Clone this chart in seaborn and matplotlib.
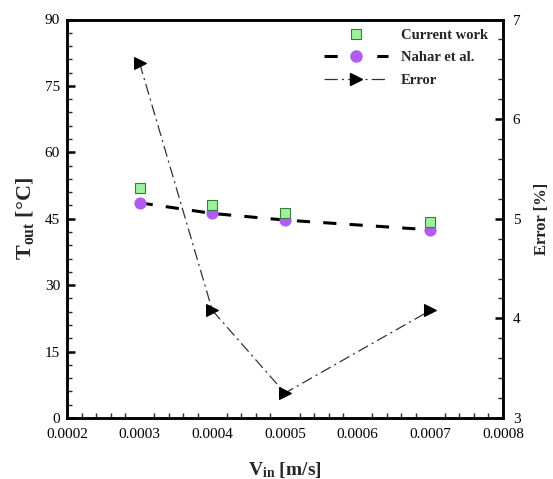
import matplotlib
matplotlib.use("Agg")
import matplotlib.pyplot as plt
import seaborn as sns
import pandas as pd
from matplotlib.ticker import MultipleLocator, AutoMinorLocator
from matplotlib.lines import Line2D

v_in = [0.0003, 0.0004, 0.0005, 0.0007]
current_work = [51.9, 48.2, 46.4, 44.3]
nahar = [48.6, 46.2, 44.7, 42.5]
error = [6.56, 4.08, 3.25, 4.08]
x_ticks = ["0.0002", "0.0003", "0.0004", "0.0005", "0.0006", "0.0007", "0.0008"]

sns.set_theme(style="white")
plt.rcParams['font.family'] = ['Liberation Serif', 'DejaVu Serif']
plt.rcParams['mathtext.fontset'] = 'custom'
plt.rcParams['mathtext.rm'] = 'Liberation Serif'
plt.rcParams['mathtext.bf'] = 'Liberation Serif:bold'
plt.rcParams['lines.scale_dashes'] = False

df = pd.DataFrame({"v": v_in, "cw": current_work, "nahar": nahar, "err": error})

GREEN_FACE, GREEN_EDGE, PURPLE = "#9ef09e", "#3a7a3a", "#b05cf0"
NAHAR_DASH = (0, (9.5, 9.5))
ERR_DASH = (0, (8, 3, 1.5, 3))

fig = plt.figure(figsize=(5.53, 4.79), dpi=100)
ax = fig.add_axes([67/553, 1 - 418/479, (503-67)/553, (418-19.5)/479])
ax2 = ax.twinx()

sns.lineplot(data=df, x="v", y="nahar", ax=ax, linestyle=NAHAR_DASH, linewidth=2.2,
             color="black", marker="o", markersize=8, markerfacecolor=PURPLE,
             markeredgecolor=PURPLE, legend=False)
sns.lineplot(data=df, x="v", y="cw", ax=ax, linestyle="none", marker="s",
             markersize=7.2, markerfacecolor=GREEN_FACE, markeredgecolor=GREEN_EDGE,
             markeredgewidth=0.8, color=GREEN_EDGE, legend=False)
sns.lineplot(data=df, x="v", y="err", ax=ax2, linestyle=ERR_DASH, linewidth=0.9,
             color="#333333", marker=">", markersize=8, markerfacecolor="black",
             markeredgecolor="black", legend=False)

ax.set_xlim(0.0002, 0.0008)
ax.set_ylim(0, 90)
ax2.set_ylim(3, 7)
ax.set_xticks([float(t) for t in x_ticks])
ax.set_xticklabels(x_ticks)
ax.xaxis.set_minor_locator(AutoMinorLocator(5))
ax.yaxis.set_major_locator(MultipleLocator(15))
ax.yaxis.set_minor_locator(AutoMinorLocator(5))
ax2.yaxis.set_major_locator(MultipleLocator(1))
ax2.yaxis.set_minor_locator(AutoMinorLocator(5))

for a in (ax, ax2):
    for s in a.spines.values():
        s.set_linewidth(1.8)
        s.set_color("black")
ax.tick_params(axis="x", which="major", direction="in", length=6, width=1.8,
               labelsize=11, colors="black", top=False, pad=7)
ax.tick_params(axis="y", which="major", direction="in", length=6, width=1.8,
               labelsize=11, colors="black", right=False, pad=5)
ax.tick_params(axis="both", which="minor", direction="in", length=3.5, width=1.0,
               top=False, right=False, left=True, bottom=True)
ax2.tick_params(axis="y", which="major", direction="in", length=6, width=1.8,
                labelsize=11, colors="black", pad=7)
ax2.tick_params(axis="y", which="minor", direction="in", length=3.5, width=1.0, right=True)

ax.set_xlabel(r"$\mathbf{V_{in}}$ [m/s]", fontsize=14, fontweight="bold", labelpad=14)
ax.set_ylabel(r"$\mathbf{T_{out}}$ [°C]", fontsize=16, fontweight="bold", labelpad=6)
ax2.set_ylabel("Error [%]", fontsize=12, fontweight="bold", labelpad=10)

handles = [
    Line2D([], [], linestyle="none", marker="s", markersize=7.2,
           markerfacecolor=GREEN_FACE, markeredgecolor=GREEN_EDGE, markeredgewidth=0.8),
    Line2D([], [], linestyle=(0, (9.5, 28.5, 9.5, 28.5)), linewidth=2.2, color="black",
           marker="o", markersize=8, markerfacecolor=PURPLE, markeredgecolor=PURPLE),
    Line2D([], [], linestyle=(0, (9.5, 3, 1.5, 3)), linewidth=0.9, color="#333333",
           marker=">", markersize=8, markerfacecolor="black", markeredgecolor="black"),
]
labels = ["Current work", "Nahar et al.", "Error"]
leg = ax.legend(handles, labels, loc="upper right", frameon=False,
                bbox_to_anchor=(0.979, 0.991), borderaxespad=0,
                prop={"family": "Liberation Serif", "weight": "bold", "size": 10.5},
                handlelength=4.45, labelspacing=0.62, handletextpad=0.85)

fig.savefig("out.png", dpi=100)
